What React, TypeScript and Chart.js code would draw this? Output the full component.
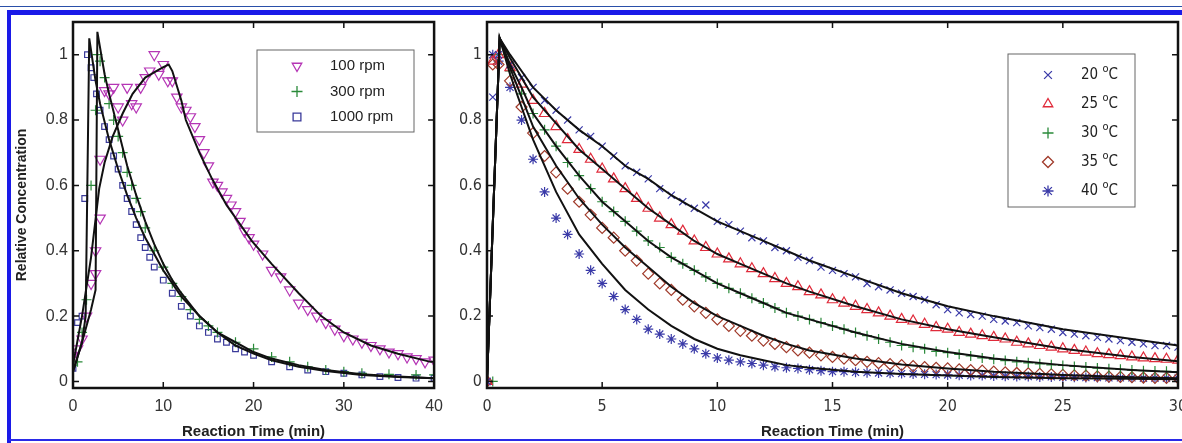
import React, { useEffect, useRef } from "react";
import { Chart, registerables } from "chart.js";
import { drawPoint } from "chart.js/helpers";
Chart.register(...registerables);

// ---------- Left panel data (Reaction Time min, relative concentration) ----------
const rpm100X = [0,0.5,1,1.5,2,2.5,2.5,3,3,3.5,4,4.5,5,5.5,6,6.5,7,7.5,8,8.5,9,9.5,10,10.5,11,11.5,12,12.5,13,13.5,14,14.5,15,15.5,16,16.5,17,17.5,18,18.5,19,19.5,20,21,22,23,24,25,26,27,28,29,30,31,32,33,34,35,36,37,38,39,40];
const rpm100Y = [0.08,0.1,0.13,0.2,0.3,0.33,0.4,0.5,0.68,0.89,0.88,0.9,0.84,0.8,0.9,0.85,0.84,0.9,0.93,0.95,1.0,0.94,0.97,0.92,0.92,0.87,0.84,0.83,0.81,0.78,0.74,0.7,0.66,0.61,0.6,0.58,0.56,0.54,0.52,0.49,0.46,0.44,0.42,0.39,0.34,0.32,0.28,0.24,0.22,0.2,0.18,0.16,0.14,0.13,0.12,0.11,0.1,0.09,0.085,0.075,0.07,0.06,0.065];
const rpm300X = [0,0.5,1,1.5,2,2.5,2.7,3,3.5,4,4.5,5,5.5,6,6.5,7,7.5,8,9,10,11,12,13,14,15,16,18,20,22,24,26,28,30,32,35,38,40];
const rpm300Y = [0.05,0.06,0.15,0.25,0.6,0.83,1.0,0.98,0.93,0.85,0.8,0.75,0.7,0.64,0.6,0.56,0.52,0.47,0.4,0.35,0.3,0.26,0.22,0.19,0.17,0.15,0.12,0.1,0.075,0.06,0.045,0.035,0.03,0.025,0.022,0.02,0.02];
const rpm1000X = [0,0.5,1,1.3,1.6,2,2.3,2.6,3,3.5,4,4.5,5,5.5,6,6.5,7,7.5,8,8.5,9,10,11,12,13,14,15,16,17,18,19,20,22,24,26,28,30,32,34,36,38,40];
const rpm1000Y = [0.04,0.18,0.2,0.56,1.0,0.96,0.93,0.88,0.83,0.78,0.74,0.69,0.65,0.6,0.56,0.52,0.48,0.44,0.41,0.38,0.35,0.31,0.27,0.23,0.2,0.17,0.15,0.13,0.12,0.1,0.09,0.08,0.06,0.045,0.035,0.03,0.025,0.02,0.015,0.012,0.01,0.01];
const fit100X = [0,1,2,2.9,3.5,4.4,5.5,6.6,8,9.9,10.6,11,12,12.5,14,15.4,17,19.8,22,25,27.5,30,33,36,39.6,40];
const fit100Y = [0.05,0.2,0.38,0.59,0.67,0.75,0.82,0.88,0.93,0.96,0.97,0.95,0.86,0.8,0.7,0.62,0.54,0.43,0.36,0.27,0.2,0.15,0.11,0.085,0.06,0.06];
const fit300X = [0,1,2,2.5,2.7,3.5,4,5,6,7,8,9,10,11,12,14,16,18,20,22,25,28,32,36,40];
const fit300Y = [0.03,0.12,0.22,0.28,1.07,0.94,0.88,0.77,0.66,0.57,0.49,0.42,0.36,0.31,0.27,0.2,0.15,0.11,0.085,0.065,0.045,0.032,0.02,0.014,0.01];
const fit1000X = [0,1,1.4,1.8,2.5,3,4,5,6,7,8,9,10,11,12,14,16,18,20,22,25,28,32,36,40];
const fit1000Y = [0.03,0.12,0.2,1.05,0.92,0.85,0.74,0.65,0.57,0.5,0.44,0.39,0.34,0.3,0.26,0.2,0.15,0.12,0.09,0.07,0.05,0.035,0.022,0.015,0.01];

// ---------- Right panel data ----------
const timeR = [0,0.25,0.5,1,1.5,2,2.5,3,3.5,4,4.5,5,5.5,6,6.5,7,7.5,8,8.5,9,9.5,10,10.5,11,11.5,12,12.5,13,13.5,14,14.5,15,15.5,16,16.5,17,17.5,18,18.5,19,19.5,20,20.5,21,21.5,22,22.5,23,23.5,24,24.5,25,25.5,26,26.5,27,27.5,28,28.5,29,29.5,30];
const c20 = [0,0.87,1.0,0.97,0.93,0.9,0.86,0.83,0.8,0.77,0.75,0.72,0.69,0.66,0.64,0.62,0.59,0.57,0.55,0.53,0.54,0.49,0.48,0.46,0.44,0.43,0.41,0.4,0.38,0.37,0.35,0.34,0.33,0.32,0.3,0.29,0.28,0.27,0.26,0.25,0.235,0.22,0.21,0.205,0.2,0.19,0.185,0.18,0.17,0.165,0.16,0.15,0.145,0.14,0.135,0.13,0.125,0.12,0.115,0.11,0.11,0.105];
const c25 = [0,0.98,1.0,0.96,0.91,0.86,0.82,0.78,0.74,0.71,0.68,0.65,0.62,0.59,0.56,0.53,0.5,0.48,0.46,0.43,0.41,0.39,0.375,0.36,0.345,0.33,0.315,0.3,0.29,0.275,0.265,0.25,0.24,0.23,0.22,0.21,0.2,0.19,0.185,0.175,0.165,0.16,0.15,0.145,0.14,0.135,0.13,0.12,0.115,0.11,0.105,0.1,0.095,0.09,0.085,0.082,0.079,0.075,0.072,0.07,0.068,0.065];
const c30 = [0,0,1.0,0.95,0.88,0.82,0.77,0.72,0.67,0.63,0.59,0.55,0.52,0.49,0.46,0.43,0.41,0.38,0.36,0.34,0.32,0.3,0.285,0.27,0.255,0.24,0.225,0.21,0.2,0.19,0.18,0.17,0.16,0.15,0.14,0.13,0.12,0.11,0.105,0.1,0.092,0.088,0.083,0.078,0.072,0.068,0.064,0.06,0.057,0.054,0.051,0.049,0.046,0.044,0.041,0.039,0.037,0.035,0.033,0.032,0.031,0.03];
const c35 = [0,0.97,0.97,0.92,0.84,0.76,0.69,0.64,0.59,0.55,0.51,0.47,0.44,0.4,0.37,0.33,0.3,0.28,0.25,0.23,0.21,0.19,0.17,0.155,0.14,0.125,0.115,0.105,0.095,0.088,0.08,0.075,0.07,0.065,0.06,0.056,0.053,0.05,0.047,0.044,0.042,0.04,0.037,0.035,0.033,0.03,0.028,0.026,0.025,0.023,0.022,0.02,0.019,0.018,0.016,0.015,0.014,0.013,0.012,0.011,0.011,0.01];
const c40 = [0,1.0,0.98,0.9,0.8,0.68,0.58,0.5,0.45,0.39,0.34,0.3,0.26,0.22,0.19,0.16,0.145,0.13,0.115,0.1,0.085,0.072,0.065,0.06,0.055,0.05,0.045,0.042,0.04,0.036,0.033,0.03,0.03,0.028,0.027,0.026,0.025,0.024,0.023,0.022,0.021,0.02,0.019,0.018,0.018,0.017,0.016,0.015,0.015,0.014,0.014,0.013,0.013,0.012,0.012,0.011,0.011,0.011,0.01,0.01,0.01,0.01];
const fitTimeR = [0,0.55,1,1.5,2,3,4,5,6,7,8,9,10,11,12,13,14,16,18,20,22,25,28,30];
const fit20 = [0,1.05,1.0,0.95,0.9,0.83,0.77,0.72,0.66,0.62,0.57,0.53,0.49,0.46,0.43,0.4,0.37,0.32,0.27,0.23,0.2,0.16,0.13,0.11];
const fit25 = [0,1.05,0.99,0.93,0.87,0.79,0.71,0.65,0.59,0.53,0.48,0.43,0.39,0.36,0.33,0.3,0.275,0.23,0.19,0.16,0.135,0.1,0.075,0.062];
const fit30 = [0,1.05,0.97,0.9,0.82,0.72,0.63,0.55,0.49,0.43,0.38,0.34,0.3,0.27,0.24,0.21,0.19,0.15,0.115,0.09,0.07,0.05,0.035,0.028];
const fit35 = [0,1.05,0.96,0.87,0.78,0.66,0.56,0.48,0.41,0.35,0.29,0.24,0.2,0.17,0.14,0.115,0.095,0.07,0.052,0.04,0.03,0.02,0.013,0.01];
const fit40 = [0,1.05,0.94,0.84,0.74,0.58,0.45,0.36,0.28,0.22,0.17,0.13,0.1,0.08,0.065,0.05,0.042,0.03,0.023,0.018,0.014,0.01,0.008,0.007];

const yTicks = [0, 0.2, 0.4, 0.6, 0.8, 1];
const xTicksLeft = [0, 10, 20, 30, 40];
const xTicksRight = [0, 5, 10, 15, 20, 25, 30];
const leftLabels = ["100 rpm", "300 rpm", "1000 rpm"];
const rightLabels = ["20", "25", "30", "35", "40"];

const pts = (xs: number[], ys: number[]) => xs.map((x, i) => ({ x, y: ys[i] }));

const TICK_FONT = "'Liberation Sans', Arial, sans-serif";
const NARROW_FONT = "'Liberation Sans Narrow', 'DejaVu Sans Condensed', 'Liberation Sans', sans-serif";

function scatter(label: string, xs: number[], ys: number[], color: string, style: string, rot = 0, r = 4) {
  return {
    type: "scatter" as const, label, data: pts(xs, ys), showLine: false,
    pointStyle: style, pointRotation: rot, pointRadius: r, borderColor: color,
    backgroundColor: "rgba(0,0,0,0)", pointBorderWidth: 1.2,
  };
}
function fitLine(xs: number[], ys: number[]) {
  return {
    type: "line" as const, label: "fit", data: pts(xs, ys), borderColor: "#111", borderWidth: 2,
    pointRadius: 0, tension: 0, fill: false,
  };
}

const framePlugin = {
  id: "frame",
  afterDatasetsDraw(chart: any, _a: any, opts: any) {
    const { ctx, chartArea: a, scales } = chart;
    ctx.save();
    ctx.strokeStyle = "#111";
    ctx.lineWidth = 1.5;
    const L = 6;
    for (const v of opts.xTicks) {
      const px = scales.x.getPixelForValue(v);
      ctx.beginPath(); ctx.moveTo(px, a.bottom); ctx.lineTo(px, a.bottom - L);
      ctx.moveTo(px, a.top); ctx.lineTo(px, a.top + L); ctx.stroke();
    }
    for (const v of yTicks) {
      const py = scales.y.getPixelForValue(v);
      ctx.beginPath(); ctx.moveTo(a.left, py); ctx.lineTo(a.left + L, py);
      ctx.moveTo(a.right, py); ctx.lineTo(a.right - L, py); ctx.stroke();
    }
    ctx.lineWidth = 2.5;
    ctx.strokeRect(a.left, a.top, a.right - a.left, a.bottom - a.top);
    // legend
    const lg = opts.legend;
    ctx.lineWidth = 1;
    ctx.strokeStyle = "#666";
    ctx.fillStyle = "#fff";
    ctx.fillRect(lg.x, lg.y, lg.w, lg.h);
    ctx.strokeRect(lg.x, lg.y, lg.w, lg.h);
    lg.items.forEach((it: any, i: number) => {
      const cy = lg.y + lg.first + i * lg.step;
      ctx.strokeStyle = it.color;
      ctx.fillStyle = "rgba(0,0,0,0)";
      ctx.lineWidth = 1.3;
      drawPoint(ctx, { pointStyle: it.style, rotation: it.rot || 0, radius: 5.5, borderWidth: 1.3 } as any, lg.x + lg.mx, cy);
      ctx.fillStyle = "#222";
      ctx.textBaseline = "middle";
      ctx.textAlign = "left";
      ctx.font = lg.font;
      const tx = lg.x + lg.tx;
      ctx.fillText(it.label, tx, cy);
      if (it.deg) {
        const w = ctx.measureText(it.label + " ").width;
        ctx.font = lg.smallFont;
        ctx.fillText("o", tx + w, cy - 6);
        const w2 = ctx.measureText("o").width;
        ctx.font = lg.font;
        ctx.fillText("C", tx + w + w2, cy);
      }
    });
    ctx.restore();
  },
};

function makeOptions(xmax: number, xTicks: number[], yWidth: number, xHeight: number, pad: any, yTitle: string | null, tickFont: any, legend: any) {
  return {
    animation: false as const,
    responsive: false,
    layout: { padding: pad },
    plugins: { legend: { display: false }, tooltip: { enabled: false }, frame: { xTicks, legend } },
    scales: {
      x: {
        type: "linear" as const, min: 0, max: xmax,
        afterBuildTicks: (s: any) => { s.ticks = xTicks.map((v) => ({ value: v })); },
        afterFit: (s: any) => { s.height = xHeight; },
        grid: { display: false, drawTicks: false }, border: { display: false },
        ticks: { color: "#333", font: tickFont, padding: 9, maxRotation: 0, autoSkip: false },
        title: { display: true, text: "Reaction Time (min)", color: "#222", font: { family: TICK_FONT, size: 15, weight: "bold" as const }, padding: { top: 0, bottom: 2 } },
      },
      y: {
        type: "linear" as const, min: -0.02, max: 1.1,
        afterBuildTicks: (s: any) => { s.ticks = yTicks.map((v) => ({ value: v })); },
        afterFit: (s: any) => { s.width = yWidth; },
        grid: { display: false, drawTicks: false }, border: { display: false },
        ticks: { color: "#333", font: tickFont, padding: 5, callback: (v: any) => String(v) },
        title: yTitle ? { display: true, text: yTitle, color: "#222", font: { family: TICK_FONT, size: 14, weight: "bold" as const }, padding: { top: 14, bottom: 0 } } : { display: false },
      },
    },
  };
}

export default function App() {
  const leftRef = useRef<HTMLCanvasElement>(null);
  const rightRef = useRef<HTMLCanvasElement>(null);
  useEffect(() => {
    document.body.style.margin = "0";
    const left = new Chart(leftRef.current!, {
      type: "scatter",
      data: {
        datasets: [
          fitLine(fit1000X, fit1000Y), fitLine(fit300X, fit300Y), fitLine(fit100X, fit100Y),
          scatter(leftLabels[0], rpm100X, rpm100Y, "#b535b5", "triangle", 180, 6),
          scatter(leftLabels[1], rpm300X, rpm300Y, "#2a8a3a", "cross", 0, 5),
          scatter(leftLabels[2], rpm1000X, rpm1000Y, "#3a3a9a", "rect", 0, 4),
        ] as any,
      },
      options: makeOptions(40, xTicksLeft, 73, 55, { top: 22, right: 4, left: 0, bottom: 0 }, "Relative Concentration",
        { family: TICK_FONT, size: 16 },
        { x: 257, y: 50, w: 157, h: 82, first: 16, step: 25.5, mx: 40, tx: 73,
          font: `15px ${TICK_FONT}`, smallFont: `10px ${TICK_FONT}`,
          items: [
            { label: leftLabels[0], color: "#b535b5", style: "triangle", rot: 180 },
            { label: leftLabels[1], color: "#2a8a3a", style: "cross" },
            { label: leftLabels[2], color: "#3a3a9a", style: "rect" },
          ] }) as any,
      plugins: [framePlugin],
    });
    const right = new Chart(rightRef.current!, {
      type: "scatter",
      data: {
        datasets: [
          fitLine(fitTimeR, fit20), fitLine(fitTimeR, fit25), fitLine(fitTimeR, fit30), fitLine(fitTimeR, fit35), fitLine(fitTimeR, fit40),
          scatter("20", timeR, c20, "#3a3aa8", "crossRot", 0, 5),
          scatter("25", timeR, c25, "#e02a3a", "triangle", 0, 6),
          scatter("30", timeR, c30, "#2a8a3a", "cross", 0, 5),
          scatter("35", timeR, c35, "#a03a2a", "rectRot", 0, 5.5),
          scatter("40", timeR, c40, "#3a3aa8", "star", 0, 5),
        ] as any,
      },
      options: makeOptions(30, xTicksRight, 47, 55, { top: 22, right: 22, left: 0, bottom: 0 }, null,
        { family: NARROW_FONT, size: 16 },
        { x: 1008 - 440, y: 54, w: 127, h: 153, first: 21, step: 29, mx: 40, tx: 73,
          font: `15px ${NARROW_FONT}`, smallFont: `11px ${NARROW_FONT}`,
          items: [
            { label: rightLabels[0], color: "#3a3aa8", style: "crossRot", deg: true },
            { label: rightLabels[1], color: "#e02a3a", style: "triangle", deg: true },
            { label: rightLabels[2], color: "#2a8a3a", style: "cross", deg: true },
            { label: rightLabels[3], color: "#a03a2a", style: "rectRot", deg: true },
            { label: rightLabels[4], color: "#3a3aa8", style: "star", deg: true },
          ] }) as any,
      plugins: [framePlugin],
    });
    return () => { left.destroy(); right.destroy(); };
  }, []);
  return (
    <div style={{ position: "fixed", left: 0, top: 0, width: 1182, height: 443, overflow: "hidden", background: "#fff" }}>
      <canvas ref={leftRef} width={452} height={443} style={{ position: "absolute", left: 0, top: 0 }} />
      <canvas ref={rightRef} width={760} height={443} style={{ position: "absolute", left: 440, top: 0 }} />
      <div style={{ position: "absolute", left: 0, top: 6, width: 1182, height: 1, background: "#2a4fa8" }} />
      <div style={{ position: "absolute", left: 7, top: 10, width: 1175, height: 5, background: "#1a1ae8" }} />
      <div style={{ position: "absolute", left: 7, top: 10, width: 4, height: 433, background: "#1a1ae8" }} />
      <div style={{ position: "absolute", left: 9, top: 439, width: 1173, height: 2, background: "#2a2ae8" }} />
    </div>
  );
}
